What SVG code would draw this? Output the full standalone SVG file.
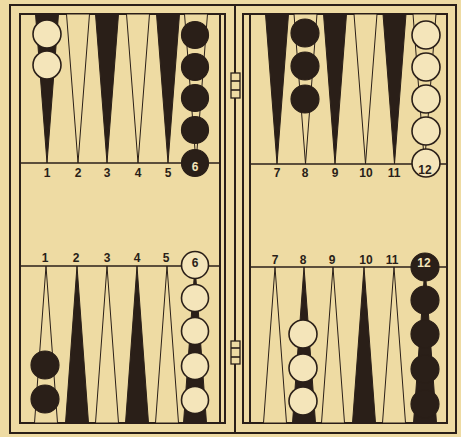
<svg xmlns="http://www.w3.org/2000/svg" width="461" height="437" viewBox="0 0 461 437">
<style>
.frame{fill:none;stroke:#2a1f18;stroke-width:2}
.ln{stroke:#2a1f18;stroke-width:1.6;fill:none}
.pb{fill:#2a1f18;stroke:#2a1f18;stroke-width:1}
.pw{fill:#eedba3;stroke:#2a1f18;stroke-width:1}
.cb{fill:#2a1f18;stroke:#2a1f18;stroke-width:1.2}
.cw{fill:#f4e5ba;stroke:#2a1f18;stroke-width:1.6}
.num{font-family:"Liberation Sans",Arial,sans-serif;font-weight:bold;font-size:12px;fill:#2a1f18;text-anchor:middle}
.numw{font-family:"Liberation Sans",Arial,sans-serif;font-weight:bold;font-size:12px;fill:#f4e5ba;text-anchor:middle}
.hinge{fill:#eedba3;stroke:#2a1f18;stroke-width:1.3}
</style>
<rect x="0" y="0" width="461" height="437" fill="#eedba3"/>
<g id="board">
<rect class="frame" x="10" y="5" width="446" height="428"/>
<line class="frame" x1="235" y1="5" x2="235" y2="433"/>
<rect class="frame" x="20" y="14" width="205" height="409"/>
<line class="frame" x1="220" y1="14" x2="220" y2="423"/>
<rect class="frame" x="243" y="14" width="204" height="409"/>
<line class="frame" x1="250" y1="14" x2="250" y2="423"/>
<line class="ln" x1="20" y1="163" x2="220" y2="163"/>
<line class="ln" x1="20" y1="266" x2="220" y2="266"/>
<line class="ln" x1="250" y1="164" x2="447" y2="164"/>
<line class="ln" x1="250" y1="267" x2="447" y2="267"/>
</g>
<g id="hinges">
<rect class="hinge" x="231" y="73" width="9" height="25"/>
<line class="ln" x1="231" y1="81" x2="240" y2="81" stroke-width="1"/>
<line class="ln" x1="231" y1="90" x2="240" y2="90" stroke-width="1"/>
<rect class="hinge" x="231" y="341" width="9" height="23"/>
<line class="ln" x1="231" y1="348" x2="240" y2="348" stroke-width="1"/>
<line class="ln" x1="231" y1="357" x2="240" y2="357" stroke-width="1"/>
</g>
<g id="points-top-left">
<polygon class="pb" points="35.5,14 58.5,14 47,163"/>
<polygon class="pw" points="66.5,14 89.5,14 78,163"/>
<polygon class="pb" points="95.5,14 118.5,14 107,163"/>
<polygon class="pw" points="126.5,14 149.5,14 138,163"/>
<polygon class="pb" points="156.5,14 179.5,14 168,163"/>
<polygon class="pw" points="184.5,14 207.5,14 196,163"/>
</g>
<g id="points-bottom-left">
<polygon class="pw" points="34.5,423 57.5,423 46,266"/>
<polygon class="pb" points="65.5,423 88.5,423 77,266"/>
<polygon class="pw" points="95.5,423 118.5,423 107,266"/>
<polygon class="pb" points="125.5,423 148.5,423 137,266"/>
<polygon class="pw" points="155.5,423 178.5,423 167,266"/>
<polygon class="pb" points="183.5,423 206.5,423 195,266"/>
</g>
<g id="points-top-right">
<polygon class="pb" points="265.5,14 288.5,14 277,164"/>
<polygon class="pw" points="294,14 317,14 305.5,164"/>
<polygon class="pb" points="323.5,14 346.5,14 335,164"/>
<polygon class="pw" points="354,14 377,14 365.5,164"/>
<polygon class="pb" points="383,14 406,14 394.5,164"/>
<polygon class="pw" points="413,14 436,14 424.5,164"/>
</g>
<g id="points-bottom-right">
<polygon class="pw" points="263.5,423 286.5,423 275,267"/>
<polygon class="pb" points="292.5,423 315.5,423 304,267"/>
<polygon class="pw" points="321.5,423 344.5,423 333,267"/>
<polygon class="pb" points="352.5,423 375.5,423 364,267"/>
<polygon class="pw" points="382.5,423 405.5,423 394,267"/>
<polygon class="pb" points="413.5,423 436.5,423 425,267"/>
</g>
<g id="checkers-top-left">
<circle class="cw" cx="47" cy="34" r="14"/>
<circle class="cw" cx="47" cy="65" r="14"/>
<circle class="cb" cx="195" cy="35" r="13.5"/>
<circle class="cb" cx="195" cy="67" r="13.5"/>
<circle class="cb" cx="195" cy="98" r="13.5"/>
<circle class="cb" cx="195" cy="130" r="13.5"/>
<circle class="cb" cx="195" cy="163" r="13.5"/>
</g>
<g id="checkers-top-right">
<circle class="cb" cx="305" cy="33" r="14"/>
<circle class="cb" cx="305" cy="66" r="14"/>
<circle class="cb" cx="305" cy="99" r="14"/>
<circle class="cw" cx="426" cy="35" r="14"/>
<circle class="cw" cx="426" cy="67" r="14"/>
<circle class="cw" cx="426" cy="99" r="14"/>
<circle class="cw" cx="426" cy="131" r="14"/>
<circle class="cw" cx="426" cy="163" r="14"/>
</g>
<g id="checkers-bottom-left">
<circle class="cb" cx="45" cy="365" r="14"/>
<circle class="cb" cx="45" cy="399" r="14"/>
<circle class="cw" cx="195" cy="265" r="13.5"/>
<circle class="cw" cx="195" cy="298" r="13.5"/>
<circle class="cw" cx="195" cy="331" r="13.5"/>
<circle class="cw" cx="195" cy="366" r="13.5"/>
<circle class="cw" cx="195" cy="400" r="13.5"/>
</g>
<g id="checkers-bottom-right">
<circle class="cw" cx="303" cy="334" r="14"/>
<circle class="cw" cx="303" cy="368" r="14"/>
<circle class="cw" cx="303" cy="401" r="14"/>
<circle class="cb" cx="425" cy="267" r="14"/>
<circle class="cb" cx="425" cy="300" r="14"/>
<circle class="cb" cx="425" cy="334" r="14"/>
<circle class="cb" cx="425" cy="369" r="14"/>
<circle class="cb" cx="425" cy="404" r="14"/>
</g>
<g id="labels">
<text class="num" x="47" y="177">1</text>
<text class="num" x="78" y="177">2</text>
<text class="num" x="107" y="177">3</text>
<text class="num" x="138" y="177">4</text>
<text class="num" x="168" y="177">5</text>
<text class="numw" x="195" y="171">6</text>
<text class="num" x="277" y="177">7</text>
<text class="num" x="305" y="177">8</text>
<text class="num" x="335" y="177">9</text>
<text class="num" x="366" y="177">10</text>
<text class="num" x="394" y="177">11</text>
<text class="num" x="425" y="174">12</text>
<text class="num" x="45" y="262">1</text>
<text class="num" x="76" y="262">2</text>
<text class="num" x="107" y="262">3</text>
<text class="num" x="137" y="262">4</text>
<text class="num" x="166" y="262">5</text>
<text class="num" x="195" y="267">6</text>
<text class="num" x="275" y="264">7</text>
<text class="num" x="303" y="264">8</text>
<text class="num" x="332" y="264">9</text>
<text class="num" x="366" y="264">10</text>
<text class="num" x="392" y="264">11</text>
<text class="numw" x="424" y="267">12</text>
</g>
</svg>
